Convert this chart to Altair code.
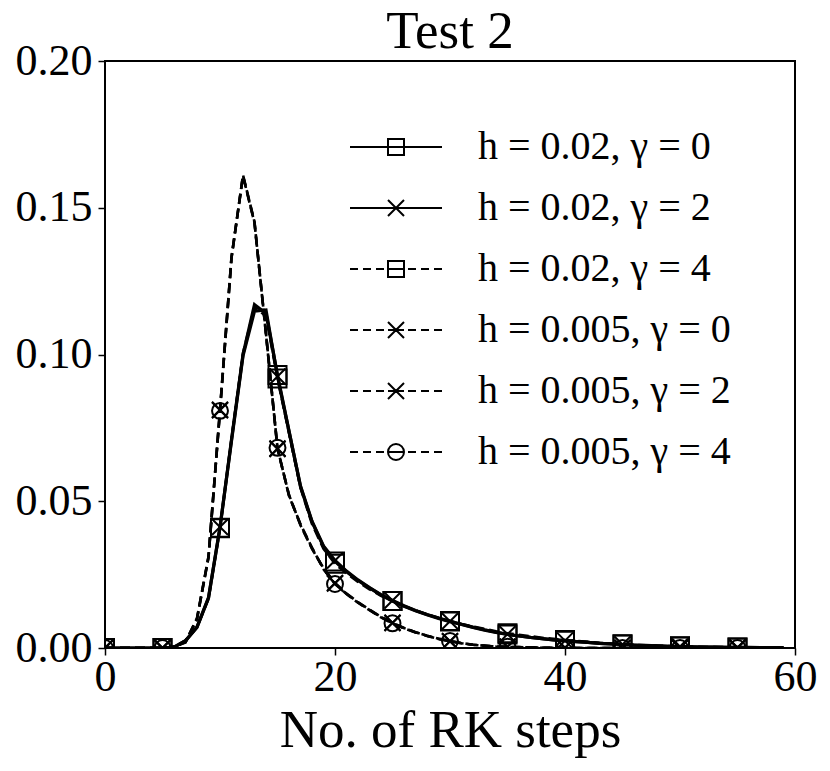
import altair as alt
import pandas as pd

steps = list(range(60))
labels = ["h = 0.02, γ = 0", "h = 0.02, γ = 2", "h = 0.02, γ = 4",
          "h = 0.005, γ = 0", "h = 0.005, γ = 2", "h = 0.005, γ = 4"]

h02_g0 = [0, 0, 0, 0, 0, 0,
          0.0003, 0.0025, 0.007, 0.017,
          0.041, 0.071, 0.100, 0.117, 0.114,
          0.093, 0.074, 0.055, 0.043, 0.0345,
          0.0295, 0.026, 0.023, 0.0205, 0.018,
          0.016, 0.0142, 0.0127, 0.0113, 0.0101,
          0.009, 0.0080, 0.0070, 0.0061, 0.0053,
          0.0046, 0.0041, 0.0036, 0.0032, 0.0028,
          0.0025, 0.0022, 0.0019, 0.0016, 0.0014,
          0.0012, 0.0010, 0.0009, 0.0007, 0.0006,
          0.0005, 0.0004, 0.0003, 0.0003, 0.0002,
          0.0002, 0.0002, 0.0001, 0.0001, 0.0001]
h02_g2 = [0, 0, 0, 0, 0, 0,
          0.0003, 0.0024, 0.0072, 0.0172,
          0.0412, 0.0705, 0.0995, 0.1148, 0.1152,
          0.0925, 0.0738, 0.0552, 0.0432, 0.0348,
          0.0298, 0.0262, 0.0232, 0.0206, 0.0182,
          0.0162, 0.0144, 0.0128, 0.0114, 0.0102,
          0.0091, 0.0081, 0.0071, 0.0062, 0.0054,
          0.0047, 0.0041, 0.0036, 0.0032, 0.0028,
          0.0025, 0.0022, 0.0019, 0.0016, 0.0014,
          0.0012, 0.0010, 0.0008, 0.0007, 0.0006,
          0.0005, 0.0004, 0.0003, 0.0003, 0.0002,
          0.0002, 0.0001, 0.0001, 0.0001, 0.0001]
h02_g4 = [0, 0, 0, 0, 0, 0,
          0.0003, 0.0026, 0.0071, 0.0168,
          0.0408, 0.0712, 0.1005, 0.1162, 0.1130,
          0.0918, 0.0732, 0.0545, 0.0422, 0.0338,
          0.0287, 0.0254, 0.0225, 0.0200, 0.0178,
          0.0160, 0.0143, 0.0128, 0.0115, 0.0103,
          0.0092, 0.0082, 0.0073, 0.0065, 0.0057,
          0.0050, 0.0045, 0.0040, 0.0035, 0.0031,
          0.0027, 0.0024, 0.0021, 0.0018, 0.0015,
          0.0013, 0.0011, 0.0009, 0.0008, 0.0007,
          0.0006, 0.0005, 0.0004, 0.0003, 0.0003,
          0.0002, 0.0002, 0.0001, 0.0001, 0.0001]
h005_g0 = [0, 0, 0, 0, 0, 0,
           0.0005, 0.002, 0.010, 0.031,
           0.081, 0.133, 0.161, 0.145, 0.107,
           0.068, 0.052, 0.042, 0.034, 0.027,
           0.022, 0.0185, 0.0155, 0.013, 0.0105,
           0.0085, 0.0068, 0.0054, 0.0042, 0.0031,
           0.0023, 0.0016, 0.0011, 0.0008, 0.0005,
           0.0004, 0.0003, 0.0002, 0.0001, 0.0001,
           0.0001, 0, 0, 0, 0,
           0, 0, 0, 0, 0,
           0, 0, 0, 0, 0,
           0, 0, 0, 0, 0]
h005_g2 = [0, 0, 0, 0, 0, 0,
           0.0005, 0.0021, 0.0102, 0.0312,
           0.0812, 0.1332, 0.1608, 0.1448, 0.1072,
           0.0678, 0.0522, 0.0418, 0.0338, 0.0272,
           0.0222, 0.0186, 0.0156, 0.0131, 0.0106,
           0.0086, 0.0068, 0.0054, 0.0041, 0.0031,
           0.0023, 0.0016, 0.0011, 0.0007, 0.0005,
           0.0004, 0.0003, 0.0002, 0.0001, 0.0001,
           0.0001, 0, 0, 0, 0,
           0, 0, 0, 0, 0,
           0, 0, 0, 0, 0,
           0, 0, 0, 0, 0]
h005_g4 = [0, 0, 0, 0, 0, 0,
           0.0004, 0.0019, 0.0098, 0.0308,
           0.0808, 0.1328, 0.1612, 0.1452, 0.1068,
           0.0682, 0.0518, 0.0422, 0.0342, 0.0268,
           0.0218, 0.0184, 0.0154, 0.0129, 0.0104,
           0.0084, 0.0067, 0.0053, 0.0042, 0.0032,
           0.0024, 0.0017, 0.0011, 0.0008, 0.0005,
           0.0004, 0.0002, 0.0002, 0.0001, 0.0001,
           0.0001, 0, 0, 0, 0,
           0, 0, 0, 0, 0,
           0, 0, 0, 0, 0,
           0, 0, 0, 0, 0]

series_values = [h02_g0, h02_g2, h02_g4, h005_g0, h005_g2, h005_g4]
dashed_flags = [False, False, True, True, True, True]
marker_kinds = ["square", "cross", "square", "cross", "cross", "circle"]

x_ticks = [0, 20, 40, 60]
y_ticks = [0.0, 0.05, 0.10, 0.15, 0.20]

rows = []
for name, vals, dashed, mk in zip(labels, series_values, dashed_flags, marker_kinds):
    for s, v in zip(steps, vals):
        rows.append({"series": name, "step": s, "value": v,
                     "dashed": dashed, "marker": mk})
df = pd.DataFrame(rows)

FONT = "Liberation Serif"

# legend symbols: line (solid or dashed) with marker in the middle
dash_base = "M-2,0H-1.2M-0.7,0H0.1M0.6,0H1.4M1.8,0H3.4M3.8,0H4.6M5.1,0H5.9M6.4,0H7.2"
solid_base = "M-2,0H7.2"
sq = "M1.8,-0.8H3.4V0.8H1.8Z"
xx = "M1.8,-0.8L3.4,0.8M1.8,0.8L3.4,-0.8"
oo = "M3.4,0A0.8,0.8 0 1,1 1.8,0A0.8,0.8 0 1,1 3.4,0"
legend_paths = [solid_base + sq, solid_base + xx, dash_base + sq,
                dash_base + xx, dash_base + xx, dash_base + oo]

xenc = alt.X("step:Q", scale=alt.Scale(domain=[0, 60], nice=False, zero=False),
             axis=alt.Axis(values=x_ticks, title="No. of RK steps", grid=False,
                           labelFontSize=44, titleFontSize=53, labelFont=FONT,
                           titleFont=FONT, titleFontWeight="normal",
                           tickSize=7, tickWidth=1.5, tickColor="black",
                           labelColor="black", titleColor="black",
                           labelBaseline="alphabetic", labelPadding=35,
                           titleBaseline="alphabetic", titleY=98,
                           domain=False, labelFlush=False))
yenc = alt.Y("value:Q", scale=alt.Scale(domain=[0, 0.2], nice=False),
             axis=alt.Axis(values=y_ticks, format=".2f", title=None, grid=False,
                           labelFontSize=44, labelFont=FONT, tickSize=7,
                           tickWidth=1.5, tickColor="black", labelColor="black",
                           labelPadding=6, domain=False, labelFlush=False))

base = alt.Chart(df)

solid_lines = base.transform_filter("!datum.dashed").mark_line(
    color="black", strokeWidth=3.2, clip=True
).encode(x=xenc, y=yenc, detail="series:N", order="step:Q")

dashed_lines = base.transform_filter("datum.dashed").mark_line(
    color="black", strokeWidth=2.6, strokeDash=[10, 5], clip=True
).encode(x=xenc, y=yenc, detail="series:N", order="step:Q")

marks = base.transform_filter("datum.step % 5 == 0")

squares = marks.transform_filter("datum.marker == 'square'").mark_point(
    shape="square", filled=False, size=324, strokeWidth=2, color="black",
    opacity=1, clip=True
).encode(x=xenc, y=yenc)

crosses = marks.transform_filter("datum.marker == 'cross'").mark_point(
    shape="M-1,-1L1,1M-1,1L1,-1", filled=False, size=256, strokeWidth=2,
    color="black", opacity=1, clip=True
).encode(x=xenc, y=yenc)

circles = marks.transform_filter("datum.marker == 'circle'").mark_point(
    shape="circle", filled=False, size=254, strokeWidth=2, color="black",
    opacity=1, clip=True
).encode(x=xenc, y=yenc)

legend_layer = base.transform_filter("datum.step < 0").mark_point(
    filled=False, size=400, strokeWidth=2, color="black", opacity=1
).encode(
    x=xenc, y=yenc,
    shape=alt.Shape("series:N", scale=alt.Scale(domain=labels, range=legend_paths),
                    legend=alt.Legend(title=None, orient="none", legendX=245,
                                      legendY=66, labelFont=FONT, labelFontSize=40,
                                      labelColor="black", labelOffset=88,
                                      labelLimit=0, rowPadding=21, padding=0,
                                      symbolSize=400, symbolStrokeWidth=2,
                                      symbolStrokeColor="black",
                                      symbolFillColor="transparent")),
)

chart = alt.layer(solid_lines, dashed_lines, squares, crosses, circles, legend_layer).properties(
    width=690, height=587,
    title=alt.TitleParams("Test 2", font=FONT, fontSize=53, fontWeight="normal",
                          color="black", anchor="middle", baseline="alphabetic",
                          frame="group", offset=0, dy=62),
    autosize=alt.AutoSizeParams(type="none"),
    padding={"left": 97, "top": 53, "right": 25, "bottom": 115},
).configure(background="white").configure_view(stroke="black", strokeWidth=2)

chart.save("out.html", embed_options={"renderer": "svg", "actions": False})
